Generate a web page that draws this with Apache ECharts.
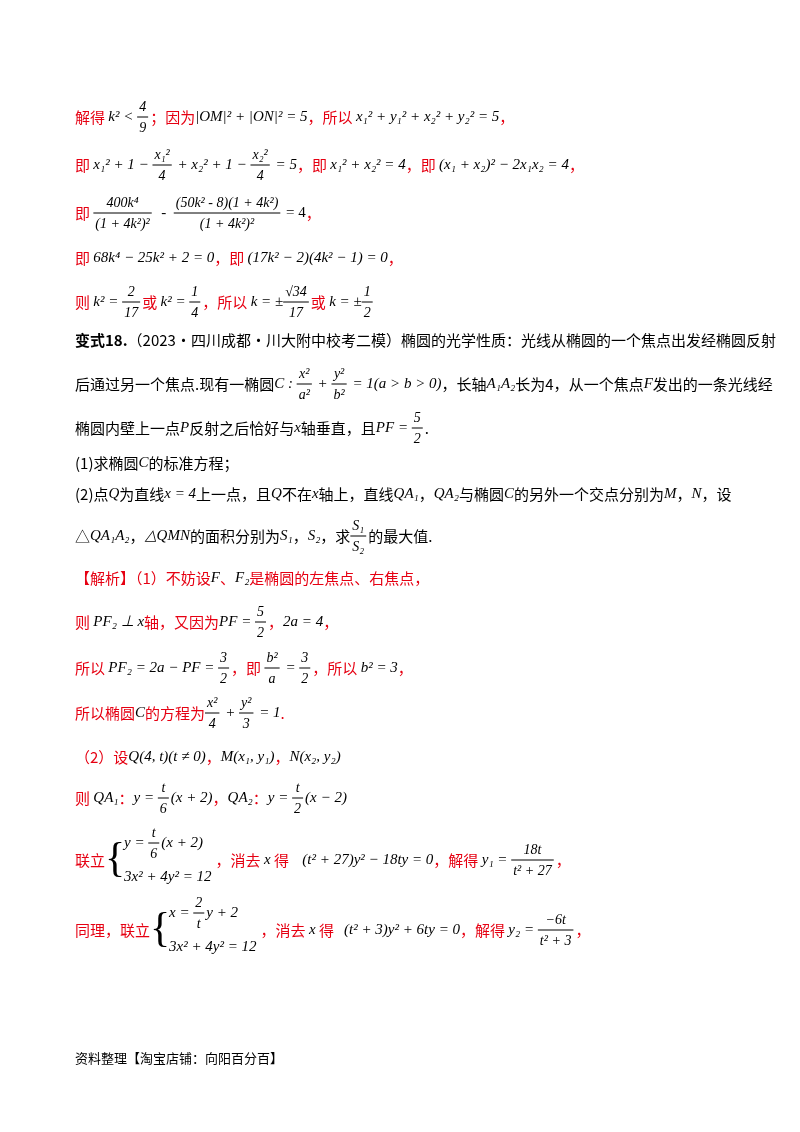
<!DOCTYPE html>
<html><head><meta charset="utf-8">
<script src="https://cdn.jsdelivr.net/npm/echarts@6/dist/echarts.min.js"></script>
<style>html,body{margin:0;padding:0;background:#fff}#c{width:800px;height:1132px}</style>
</head><body><div id="c"></div>
<script>
const r=t=>['r',t],k=t=>['k',t],b=t=>['b',t],m=t=>['m',t],n=t=>['n',t],f=(a,c)=>['f',a,c],s=(a,c)=>['s',a,c];
const lineY=[117,165,213,258,302,340,384,428,463,494,536,578,622,668,713,757,798,860,930];
const lines=[
[r('解得 '),m('k² < '),f('4','9'),r('；因为'),m('|OM|² + |ON|² = 5'),r('，所以 '),m('x₁² + y₁² + x₂² + y₂² = 5'),r('，')],
[r('即 '),m('x₁² + 1 − '),f('x₁²','4'),m(' + x₂² + 1 − '),f('x₂²','4'),m(' = 5'),r('，即 '),m('x₁² + x₂² = 4'),r('，即 '),m('(x₁ + x₂)² − 2x₁x₂ = 4'),r('，')],
[r('即 '),f('400k⁴','(1 + 4k²)²'),n('  -  '),f('(50k² - 8)(1 + 4k²)','(1 + 4k²)²'),n(' = 4'),r('，')],
[r('即 '),m('68k⁴ − 25k² + 2 = 0'),r('，即 '),m('(17k² − 2)(4k² − 1) = 0'),r('，')],
[r('则 '),m('k² = '),f('2','17'),r('或 '),m('k² = '),f('1','4'),r('，所以 '),m('k = ±'),f('√34','17'),r('或 '),m('k = ±'),f('1','2')],
[b('变式18.'),k('（2023·四川成都·川大附中校考二模）椭圆的光学性质：光线从椭圆的一个焦点出发经椭圆反射')],
[k('后通过另一个焦点.现有一椭圆'),m('C : '),f('x²','a²'),m(' + '),f('y²','b²'),m(' = 1(a > b > 0)'),k('，长轴'),m('A₁A₂'),k('长为4，从一个焦点'),m('F'),k('发出的一条光线经')],
[k('椭圆内壁上一点'),m('P'),k('反射之后恰好与'),m('x'),k('轴垂直，且'),m('PF = '),f('5','2'),k('.')],
[k('(1)求椭圆'),m('C'),k('的标准方程；')],
[k('(2)点'),m('Q'),k('为直线'),m('x = 4'),k('上一点，且'),m('Q'),k('不在'),m('x'),k('轴上，直线'),m('QA₁'),k('，'),m('QA₂'),k('与椭圆'),m('C'),k('的另外一个交点分别为'),m('M'),k('，'),m('N'),k('，设')],
[k('△'),m('QA₁A₂'),k('，'),m('△QMN'),k('的面积分别为'),m('S₁'),k('，'),m('S₂'),k('，求'),f('S₁','S₂'),k('的最大值.')],
[r('【解析】（1）不妨设'),m('F'),r('、'),m('F₂'),r('是椭圆的左焦点、右焦点，')],
[r('则 '),m('PF₂ ⊥ x'),r('轴，又因为'),m('PF = '),f('5','2'),r('，'),m('2a = 4'),r('，')],
[r('所以 '),m('PF₂ = 2a − PF = '),f('3','2'),r('，即 '),f('b²','a'),m(' = '),f('3','2'),r('，所以 '),m('b² = 3'),r('，')],
[r('所以椭圆'),m('C'),r('的方程为'),f('x²','4'),m(' + '),f('y²','3'),m(' = 1'),r('.')],
[r('（2）设'),m('Q(4, t)(t ≠ 0)'),r('，'),m('M(x₁, y₁)'),r('，'),m('N(x₂, y₂)')],
[r('则 '),m('QA₁'),r('：'),m('y = '),f('t','6'),m('(x + 2)'),r('，'),m('QA₂'),r('：'),m('y = '),f('t','2'),m('(x − 2)')],
[r('联立'),s([m('y = '),f('t','6'),m('(x + 2)')],[m('3x² + 4y² = 12')]),r('，消去 '),m('x'),r(' 得    '),m('(t² + 27)y² − 18ty = 0'),r('，解得 '),m('y₁ = '),f('18t','t² + 27'),r('，')],
[r('同理，联立'),s([m('x = '),f('2','t'),m('y + 2')],[m('3x² + 4y² = 12')]),r('，消去 '),m('x'),r(' 得   '),m('(t² + 3)y² + 6ty = 0'),r('，解得 '),m('y₂ = '),f('−6t','t² + 3'),r('，')]
];
const footer='资料整理【淘宝店铺：向阳百分百】';

const CN='"Noto Sans CJK SC"',SER='"Liberation Serif"';
const fonts={r:'15px '+CN,k:'15px '+CN,b:'bold 15px '+CN,m:'italic 15px '+SER,n:'15px '+SER};
const cols={r:'#e60012',k:'#000',b:'#000',m:'#000',n:'#000'};
const ctx=document.createElement('canvas').getContext('2d');
function meas(t,fnt){ctx.font=fnt;return ctx.measureText(t).width;}
const els=[];
function txt(t,x,y,fnt,col){els.push({type:'text',x:x,y:y,style:{text:t,font:fnt,fill:col,verticalAlign:'middle',align:'left'}});}
function layout(segs,x,y){
  let cx=x;
  for(const g of segs){
    const t=g[0];
    if(t==='f'){
      const fn='italic 14px '+SER;
      const w=Math.max(meas(g[1],fn),meas(g[2],fn))+4;
      txt(g[1],cx+(w-meas(g[1],fn))/2,y-10,fn,'#000');
      txt(g[2],cx+(w-meas(g[2],fn))/2,y+11,fn,'#000');
      els.push({type:'line',shape:{x1:cx,y1:y,x2:cx+w,y2:y},style:{stroke:'#000',lineWidth:1}});
      cx+=w+2;
    } else if(t==='s'){
      txt('{',cx,y,'42px '+SER,'#000');
      const w1=layout(g[1],cx+19,y-17),w2=layout(g[2],cx+19,y+17);
      cx+=19+Math.max(w1,w2)+4;
    } else {
      txt(g[1],cx,y,fonts[t],cols[t]);
      cx+=meas(g[1],fonts[t]);
    }
  }
  return cx-x;
}
lines.forEach((l,i)=>layout(l,75,lineY[i]));
txt(footer,75,1058,'13px '+CN,'#000');
const ch=echarts.init(document.getElementById('c'));
ch.setOption({graphic:{elements:els}});
</script></body></html>
